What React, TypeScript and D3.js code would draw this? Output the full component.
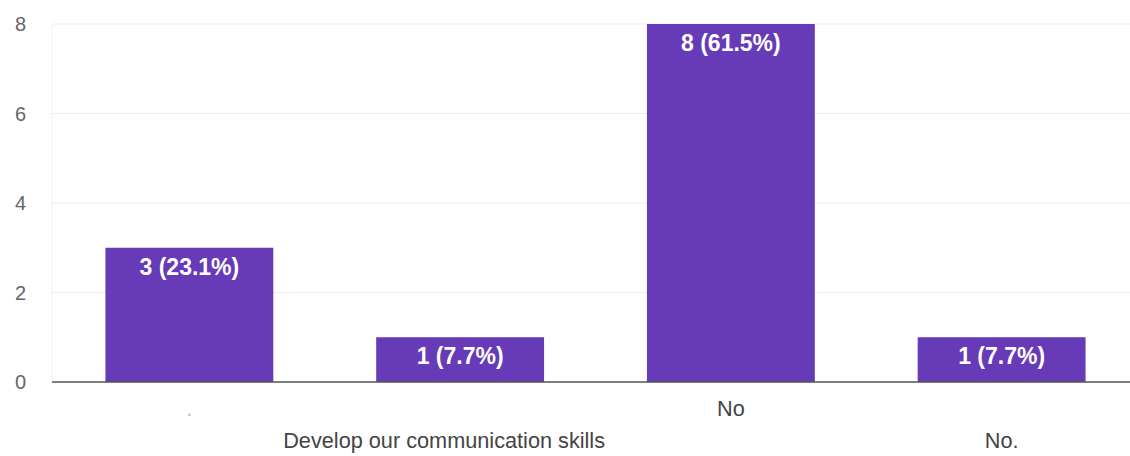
import React from "react";
import * as d3 from "d3";

const categories = [".", "Develop our communication skills", "No", "No."];
const counts = [3, 1, 8, 1];
const percents = ["23.1%", "7.7%", "61.5%", "7.7%"];
const yTicks = [0, 2, 4, 6, 8];

export default function App() {
  const W = 1130, H = 456;
  const left = 52, baseY = 382, topY = 24;
  const x = d3.scaleBand<string>().domain(categories).range([54, 1137]).paddingInner(0.38).paddingOuter(0.19);
  const y = d3.scaleLinear().domain([0, 8]).range([baseY, topY]);
  const font = "Arial, 'Liberation Sans', sans-serif";
  return (
    <div style={{ position: "absolute", left: 0, top: 0 }}>
      <svg width={W} height={H} style={{ display: "block", background: "#fff" }}>
        {yTicks.filter(t => t > 0).map(t => (
          <line key={"g" + t} x1={left} x2={W} y1={y(t)} y2={y(t)} stroke="#ececec" strokeWidth={1} />
        ))}
        <line x1={left} x2={left} y1={topY} y2={baseY} stroke="#f0f0f0" />
        {yTicks.map(t => (
          <text key={"t" + t} x={26} y={y(t)} dy="0.35em" textAnchor="end" fontFamily={font} fontSize={20} fill="#666">{t}</text>
        ))}
        {categories.map((c, i) => (
          <g key={c}>
            <rect x={x(c)} y={y(counts[i])} width={x.bandwidth()} height={baseY - y(counts[i])} fill="#673ab7" />
            <text x={(x(c) ?? 0) + x.bandwidth() / 2} y={y(counts[i]) + 27} textAnchor="middle" fontFamily={font} fontSize={23} fontWeight="bold" fill="#fff">
              {`${counts[i]} (${percents[i]})`}
            </text>
            <text x={(x(c) ?? 0) + x.bandwidth() / 2 - (i === 1 ? 16 : 0)} y={i % 2 === 0 ? 416 : 448} textAnchor="middle" fontFamily={font} fontSize={21.7} fill={i === 0 ? "#bbb" : "#444"}>
              {c}
            </text>
          </g>
        ))}
        <line x1={left} x2={W} y1={baseY} y2={baseY} stroke="#555" strokeWidth={1.5} />
      </svg>
    </div>
  );
}
